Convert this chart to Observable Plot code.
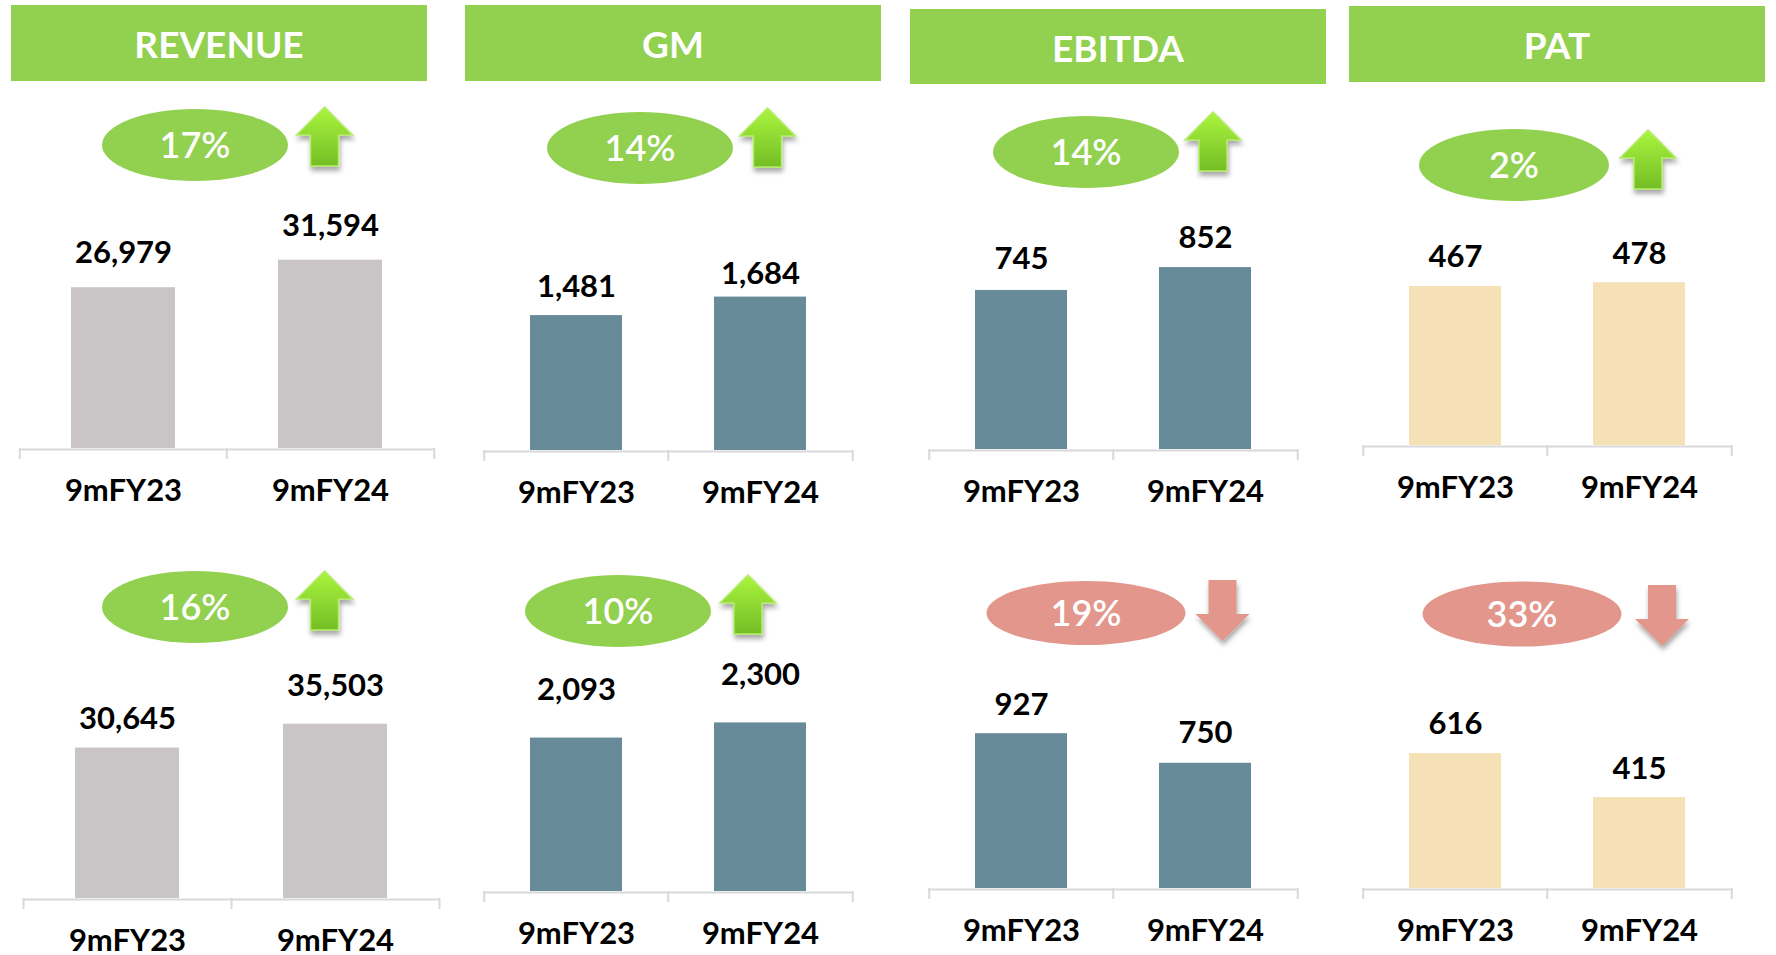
<!DOCTYPE html>
<html><head><meta charset="utf-8">
<script src="https://cdn.jsdelivr.net/npm/d3@7"></script>
<script src="https://cdn.jsdelivr.net/npm/@observablehq/plot@0.6"></script>
<style>
html,body{margin:0;padding:0;background:#fff;}
#root{position:relative;width:1776px;height:955px;overflow:hidden;font-family:Lato, sans-serif;}
#root .chart{position:absolute;}
#deco{position:absolute;left:0;top:0;pointer-events:none;}
</style></head><body><div id="root"></div>
<script>
// ---- data ----
const metrics = ["REVENUE", "GM", "EBITDA", "PAT"];
const periods = ["9mFY23", "9mFY24"];
const revenueTop = [26979, 31594];
const gmTop = [1481, 1684];
const ebitdaTop = [745, 852];
const patTop = [467, 478];
const revenueBottom = [30645, 35503];
const gmBottom = [2093, 2300];
const ebitdaBottom = [927, 750];
const patBottom = [616, 415];
const changeTop = [17, 14, 14, 2];
const changeBottom = [16, 10, 19, 33];
const directionTop = ["up", "up", "up", "up"];
const directionBottom = ["up", "up", "down", "down"];

// ---- styling / layout ----
const barColors = ["#c9c4c6", "#688b9a", "#688b9a", "#f6e0b6"];
const headerGreen = "#92d050";
const upFill = "#92d050", downFill = "#e2968c";

const headerBoxes = [
  {x0: 11, y0: 5, x1: 427, y1: 81},
  {x0: 465, y0: 5, x1: 881, y1: 81},
  {x0: 910, y0: 9, x1: 1326, y1: 84},
  {x0: 1349, y0: 6, x1: 1765, y1: 82}
];
const chartsLayout = [
  {axL: 19, axR: 434, axY: 448, k: 0.00596, gaps: [25, 24]},
  {axL: 483, axR: 852, axY: 450, k: 0.0911, gaps: [19, 13]},
  {axL: 928, axR: 1297, axY: 449, k: 0.2135, gaps: [21, 20]},
  {axL: 1362, axR: 1731, axY: 445, k: 0.3405, gaps: [19, 19]},
  {axL: 23, axR: 439, axY: 898, k: 0.00491, gaps: [19, 28]},
  {axL: 483, axR: 852, axY: 891, k: 0.0733, gaps: [38, 38]},
  {axL: 928, axR: 1297, axY: 888, k: 0.167, gaps: [19, 20]},
  {axL: 1362, axR: 1731, axY: 888, k: 0.219, gaps: [20, 19]}
];
const ellipses = [
  {cx: 195, cy: 145, rx: 93, ry: 36},
  {cx: 640, cy: 148, rx: 93, ry: 36},
  {cx: 1086, cy: 152, rx: 93, ry: 36},
  {cx: 1514, cy: 165, rx: 95, ry: 36},
  {cx: 195, cy: 607, rx: 93, ry: 36},
  {cx: 618, cy: 611, rx: 93, ry: 36},
  {cx: 1086, cy: 613, rx: 99.5, ry: 32},
  {cx: 1522, cy: 614, rx: 99.5, ry: 32.5}
];
const arrows = [
  {cx: 324.5, top: 107}, {cx: 767.5, top: 108}, {cx: 1213, top: 112}, {cx: 1648, top: 130},
  {cx: 324.5, top: 571}, {cx: 748, top: 575}, {cx: 1222.5, top: 580}, {cx: 1662, top: 585}
];

const root = document.getElementById("root");
const seriesList = [revenueTop, gmTop, ebitdaTop, patTop, revenueBottom, gmBottom, ebitdaBottom, patBottom];
const fmt = d3.format(",");

function makeChart(values, cfg, color) {
  const W = cfg.axR - cfg.axL;
  const plotH = 300, mL = 3, mR = 3, mB = 70;
  const step = W / periods.length;
  const data = periods.map((p, i) => ({period: p, value: values[i]}));
  const marks = [
    Plot.barY(data, {x: "period", y: "value", fill: color}),
    Plot.ruleY([0], {stroke: "#d9d9d9", strokeWidth: 2, dy: 1}),
    Plot.axisX(periods, {tickSize: 11, text: null, label: null, color: "#d9d9d9", strokeWidth: 2, dx: -step / 2}),
    Plot.axisX([periods[periods.length - 1]], {tickSize: 11, text: null, label: null, color: "#d9d9d9", strokeWidth: 2, dx: step / 2}),
    Plot.axisX({tickSize: 0, tickPadding: 30, label: null, fontSize: 31, fontWeight: "bold", color: "#000"})
  ];
  data.forEach((d, i) => {
    marks.push(Plot.text([d], {x: "period", y: "value", text: e => fmt(e.value), lineAnchor: "bottom",
      dy: -cfg.gaps[i], fontSize: 31, fontWeight: "bold", fill: "#000"}));
  });
  const chart = Plot.plot({
    width: W + mL + mR, height: plotH + mB,
    marginLeft: mL, marginRight: mR, marginTop: 0, marginBottom: mB,
    style: {background: "transparent", overflow: "visible", fontFamily: "Lato, sans-serif", color: "#000"},
    x: {domain: periods, paddingInner: 0.5, paddingOuter: 0.25, label: null},
    y: {domain: [0, plotH / cfg.k], axis: null},
    marks
  });
  const wrap = document.createElement("div");
  wrap.className = "chart";
  wrap.style.left = (cfg.axL - mL) + "px";
  wrap.style.top = (cfg.axY - plotH) + "px";
  wrap.appendChild(chart);
  root.appendChild(wrap);
}

seriesList.forEach((vals, i) => makeChart(vals, chartsLayout[i], barColors[i % 4]));

// ---- decorations ----
const svg = d3.select(root).append("svg").attr("id", "deco").attr("width", 1776).attr("height", 955);
const defs = svg.append("defs");
const grad = defs.append("linearGradient").attr("id", "gUp").attr("x1", 0).attr("y1", 0).attr("x2", 0).attr("y2", 1);
grad.append("stop").attr("offset", "0%").attr("stop-color", "#aaf53e");
grad.append("stop").attr("offset", "100%").attr("stop-color", "#74bd26");
const f = defs.append("filter").attr("id", "shadow").attr("x", "-30%").attr("y", "-30%").attr("width", "160%").attr("height", "160%");
f.append("feDropShadow").attr("dx", 1).attr("dy", 4).attr("stdDeviation", 2.5).attr("flood-color", "#000").attr("flood-opacity", 0.35);

headerBoxes.forEach((h, i) => {
  svg.append("rect").attr("x", h.x0).attr("y", h.y0).attr("width", h.x1 - h.x0).attr("height", h.y1 - h.y0).attr("fill", headerGreen);
  svg.append("text").attr("x", (h.x0 + h.x1) / 2).attr("y", h.y0 + 53).attr("text-anchor", "middle")
    .attr("font-family", "Lato, sans-serif").attr("font-weight", "bold").attr("font-size", 37).attr("fill", "#fff").text(metrics[i]);
});

const changes = changeTop.concat(changeBottom);
const dirs = directionTop.concat(directionBottom);
ellipses.forEach((e, i) => {
  const up = dirs[i] === "up";
  svg.append("ellipse").attr("cx", e.cx).attr("cy", e.cy).attr("rx", e.rx).attr("ry", e.ry).attr("fill", up ? upFill : downFill);
  svg.append("text").attr("x", e.cx).attr("y", e.cy + 13).attr("text-anchor", "middle")
    .attr("font-family", "Lato, sans-serif").attr("font-weight", 600).attr("font-size", 36).attr("fill", "#fff").text(changes[i] + "%");
});
arrows.forEach((a, i) => {
  const up = dirs[i] === "up";
  const c = a.cx, t = a.top;
  let d;
  if (up) {
    d = `M${c},${t} L${c + 28},${t + 28} L${c + 14},${t + 28} L${c + 14},${t + 59} L${c - 14},${t + 59} L${c - 14},${t + 28} L${c - 28},${t + 28} Z`;
  } else {
    d = `M${c - 14},${t} L${c + 14},${t} L${c + 14},${t + 34} L${c + 27},${t + 34} L${c},${t + 61} L${c - 27},${t + 34} L${c - 14},${t + 34} Z`;
  }
  svg.append("path").attr("d", d).attr("fill", up ? "url(#gUp)" : downFill)
    .attr("stroke", up ? "#b4ec6a" : "none").attr("stroke-width", up ? 1.5 : 0).attr("filter", "url(#shadow)");
});
</script></body></html>
